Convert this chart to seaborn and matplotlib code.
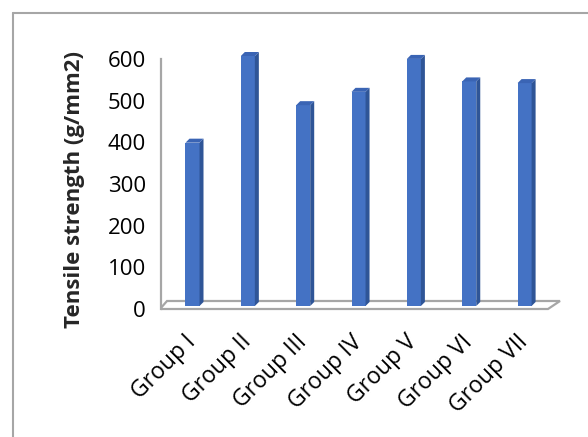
import matplotlib
matplotlib.use("Agg")
import matplotlib.pyplot as plt
from matplotlib.patches import Polygon
from matplotlib.lines import Line2D
from matplotlib.transforms import offset_copy
import seaborn as sns

groups = ["Group I", "Group II", "Group III", "Group IV", "Group V", "Group VI", "Group VII"]
tensile = [392, 600, 482, 514, 593, 539, 535]
yticks = [0, 100, 200, 300, 400, 500, 600]

FRONT = "#4472C4"
SIDE = "#2F5597"
TOP = "#3A64B4"
GRAY = "#A6A6A6"

sns.set_style("white")
plt.rcParams["font.family"] = ["Open Sans", "DejaVu Sans"]

W, H = 588, 437
fig = plt.figure(figsize=(W / 100, H / 100), dpi=100)
fig.patch.set_facecolor("white")

# axes box in pixels (from top-left)
L, R, T, B = 161, 565, 50, 315
ax = fig.add_axes([L / W, 1 - B / H, (R - L) / W, (B - T) / H])

sns.barplot(x=groups, y=tensile, color=FRONT, saturation=1, width=0.253,
            linewidth=0, ax=ax)

# scales: 100 units of value = 41.67 px, one category = 55.35 px
px_y = 250 / 600
px_x = 55.35
x_c0 = 192.5
ax.set_xlim((L - x_c0) / px_x, (R - x_c0) / px_x)
ax.set_ylim(-(B - 309) / px_y, (309 - T) / px_y)

# depth of the 3-D box
dx = 4 / px_x
dy = 4 / px_y

# floor outline
fx0, fx1 = (160 - x_c0) / px_x, (548 - x_c0) / px_x
bx0, bx1 = (167 - x_c0) / px_x, (560 - x_c0) / px_x
by = 8 / px_y
floor = Polygon([(fx0, 0), (fx1, 0), (bx1, by), (bx0, by)], closed=True,
                facecolor="white", edgecolor=GRAY, linewidth=1.6, zorder=0.5)
ax.add_patch(floor)

# raise bars to the middle of the floor and add side/top faces
lift = offset_copy(ax.transData, fig=fig, x=0, y=3, units="dots")
for p in list(ax.patches):
    if p is floor:
        continue
    p.set_transform(lift)
    p.set_zorder(2)
    x0 = p.get_x()
    x1 = x0 + p.get_width()
    y0 = p.get_y()
    y1 = y0 + p.get_height()
    side = Polygon([(x1, y0), (x1 + dx, y0 + dy), (x1 + dx, y1 + dy), (x1, y1)],
                   closed=True, facecolor=SIDE, edgecolor="none", zorder=2,
                   transform=lift)
    top = Polygon([(x0, y1), (x0 + dx, y1 + dy), (x1 + dx, y1 + dy), (x1, y1)],
                  closed=True, facecolor=TOP, edgecolor="none", zorder=2,
                  transform=lift)
    ax.add_patch(side)
    ax.add_patch(top)

# value axis
for s in ["top", "right", "bottom"]:
    ax.spines[s].set_visible(False)
ax.spines["left"].set_bounds(0, 600)
ax.spines["left"].set_color(GRAY)
ax.spines["left"].set_linewidth(1.6)
ax.set_yticks(yticks)
ax.set_yticklabels([str(v) for v in yticks])
ax.tick_params(axis="y", direction="out", length=6, width=1.4, color=GRAY,
               labelsize=16, pad=5, labelcolor="black")
ax.tick_params(axis="x", length=0, labelsize=16.5, pad=17, labelcolor="black")
for lab in ax.get_xticklabels():
    lab.set_rotation(45)
    lab.set_ha("right")
    lab.set_va("center")
    lab.set_rotation_mode("anchor")

ax.set_xlabel("")
ax.set_ylabel("Tensile strength (g/mm2)", fontsize=16, fontweight="bold")
ax.yaxis.set_label_coords((85 - L) / (R - L), (B - 190) / (B - T))
ax.set_facecolor("none")

# chart border
fig.add_artist(Line2D([13 / W, 13 / W], [0, 1 - 13 / H], transform=fig.transFigure,
                      color=GRAY, linewidth=1.5))
fig.add_artist(Line2D([13 / W, 1], [1 - 13 / H, 1 - 13 / H], transform=fig.transFigure,
                      color=GRAY, linewidth=1.5))

fig.savefig("out.png", dpi=100, facecolor="white")
